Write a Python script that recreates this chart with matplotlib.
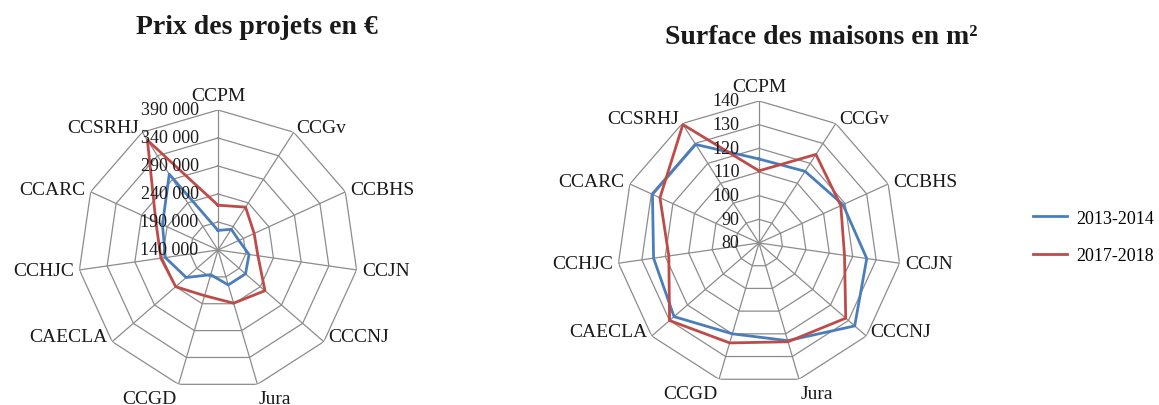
import numpy as np
import matplotlib
matplotlib.use("Agg")
import matplotlib.pyplot as plt

plt.rcParams['font.family'] = ['Liberation Serif', 'DejaVu Serif']

# communautés de communes
categories = ["CCPM", "CCGv", "CCBHS", "CCJN", "CCCNJ", "Jura", "CCGD",
              "CAECLA", "CCHJC", "CCARC", "CCSRHJ"]
periods = ["2013-2014", "2017-2018"]

# prix moyen des projets (€)
prix_2013 = [175000, 184000, 181000, 196000, 205000, 205000, 186000,
             215000, 235000, 249000, 301000]
prix_2017 = [220000, 231000, 211000, 212000, 251000, 239000, 225000,
             240000, 243000, 262000, 373000]
prix_ticks = [140000, 190000, 240000, 290000, 340000, 390000]

# surface moyenne des maisons (m²)
surf_2013 = [115.5, 116, 119, 126, 133.5, 123, 120, 127.5, 125, 129.5, 129.5]
surf_2017 = [110.5, 124.5, 118, 116.5, 128.5, 123.5, 124, 130, 118.5, 126, 139.5]
surf_ticks = [80, 90, 100, 110, 120, 130, 140]

BLUE = "#4a7ebb"
RED = "#be4b48"
GRID = "#8c8c8c"
TXT = "#1a1a1a"


def fmt_prix(v):
    return f"{v:,.0f}".replace(",", " ")


def radar(ax, s1, s2, ticks, fmt):
    n = len(categories)
    ang = np.arange(n) * 2 * np.pi / n
    closed = np.append(ang, ang[0])
    ax.set_theta_zero_location("N")
    ax.set_theta_direction(-1)
    ax.grid(False)
    ax.set_xticks([])
    ax.set_yticks([])
    ax.spines["polar"].set_visible(False)
    ax.patch.set_alpha(0)

    rmin, rmax = ticks[0], ticks[-1]
    # anneaux polygonaux + rayons
    for t in ticks[1:]:
        ax.plot(closed, [t] * (n + 1), color=GRID, lw=0.9, zorder=1)
    for a in ang:
        ax.plot([a, a], [rmin, rmax], color=GRID, lw=0.9, zorder=1)

    ax.plot(closed, s1 + s1[:1], color=BLUE, lw=2.0, zorder=3, label=periods[0])
    ax.plot(closed, s2 + s2[:1], color=RED, lw=2.0, zorder=3, label=periods[1])
    ax.set_rlim(rmin, rmax)

    # libellés des catégories
    for a, name in zip(ang, categories):
        s, c = np.sin(a), np.cos(a)
        ha = "center" if abs(s) < 0.1 else ("left" if s > 0 else "right")
        if c > 0.9:
            va = "bottom"
        elif c < -0.9:
            va = "top"
        elif c < -0.5:
            va = "bottom"
        else:
            va = "center"
        ax.annotate(name, (a, rmax), xytext=(4 * s, 4 * c), textcoords="offset points",
                    ha=ha, va=va, fontsize=14, color=TXT, clip_on=False)

    # graduations de l'axe radial
    for t in ticks:
        ax.annotate(fmt(t), (0, t), xytext=(-14, 0), textcoords="offset points",
                    ha="right", va="center", fontsize=13, color=TXT, zorder=5)


fig = plt.figure(figsize=(11.59, 4.06), dpi=100)

ax1 = fig.add_axes([78 / 1159, 15 / 406, 280 / 1159, 280 / 406], projection="polar")
radar(ax1, prix_2013, prix_2017, prix_ticks, fmt_prix)

ax2 = fig.add_axes([617 / 1159, 20 / 406, 284 / 1159, 284 / 406], projection="polar")
radar(ax2, surf_2013, surf_2017, surf_ticks, lambda v: f"{v:d}")

fig.text(257 / 1159, 1 - 28 / 406, "Prix des projets en €", ha="center", va="center",
         fontsize=20, fontweight="bold", color=TXT)
fig.text(821 / 1159, 1 - 38 / 406, "Surface des maisons en m²", ha="center", va="center",
         fontsize=20, fontweight="bold", color=TXT)

handles, labels = ax2.get_legend_handles_labels()
fig.legend(handles, labels, loc="center left", bbox_to_anchor=(1033 / 1159, 1 - 238 / 406),
           frameon=False, fontsize=13, handlelength=1.9, handletextpad=0.5,
           labelspacing=1.15, borderpad=0, borderaxespad=0)

fig.savefig("out.png", dpi=100)
